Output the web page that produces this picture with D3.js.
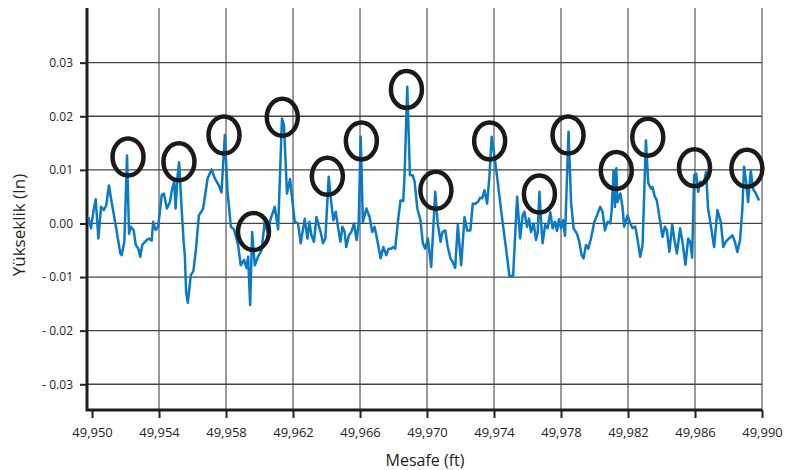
<!DOCTYPE html>
<html lang="tr">
<head>
    <meta charset="UTF-8">
    <title>Yükseklik - Mesafe</title>
    <script src="https://cdn.jsdelivr.net/npm/d3@7"></script>
    <style>
        body {
            margin: 0;
            background-color: white;
        }
        svg {
            display: block;
            font-family: "Open Sans", sans-serif;
        }
    </style>
</head>
<body>
<script>

    // DATA
    const distance = [
        49949.78, 49949.94, 49950.08, 49950.22, 49950.38, 49950.54, 49950.70, 49950.85, 49951.01, 49951.17,
        49951.41, 49951.69, 49951.77, 49951.93, 49952.09, 49952.21, 49952.32, 49952.49, 49952.61, 49952.76,
        49952.88, 49953.00, 49953.26, 49953.40, 49953.56, 49953.65, 49953.80, 49953.95, 49954.16, 49954.29,
        49954.47, 49954.65, 49954.79, 49954.91, 49954.99, 49955.11, 49955.20, 49955.35, 49955.47, 49955.54,
        49955.62, 49955.72, 49955.90, 49956.05, 49956.20, 49956.38, 49956.63, 49956.90, 49957.14, 49957.33,
        49957.57, 49957.73, 49957.93, 49958.09, 49958.29, 49958.48, 49958.72, 49958.88, 49959.08, 49959.22,
        49959.32, 49959.44, 49959.56, 49959.72, 49959.91, 49960.12, 49960.31, 49960.47, 49960.67, 49960.91,
        49961.11, 49961.34, 49961.46, 49961.64, 49961.82, 49962.10, 49962.30, 49962.46, 49962.70, 49962.86,
        49962.98, 49963.10, 49963.25, 49963.40, 49963.53, 49963.65, 49963.79, 49963.93, 49964.13, 49964.29,
        49964.41, 49964.55, 49964.68, 49964.83, 49964.95, 49965.08, 49965.18, 49965.34, 49965.48, 49965.64,
        49965.80, 49965.92, 49966.04, 49966.17, 49966.38, 49966.57, 49966.73, 49966.87, 49967.03, 49967.23,
        49967.39, 49967.57, 49967.71, 49967.87, 49967.96, 49968.10, 49968.26, 49968.42, 49968.58, 49968.66,
        49968.82, 49968.98, 49969.14, 49969.26, 49969.42, 49969.61, 49969.75, 49969.89, 49970.05, 49970.25,
        49970.49, 49970.64, 49970.81, 49970.92, 49971.09, 49971.24, 49971.40, 49971.54, 49971.68, 49971.84,
        49972.04, 49972.24, 49972.40, 49972.59, 49972.73, 49972.89, 49973.03, 49973.17, 49973.29, 49973.43,
        49973.59, 49973.73, 49973.86, 49974.02, 49974.22, 49974.46, 49974.72, 49974.92, 49975.14, 49975.38,
        49975.56, 49975.71, 49975.81, 49975.97, 49976.09, 49976.21, 49976.37, 49976.51, 49976.61, 49976.71,
        49976.81, 49976.90, 49977.05, 49977.20, 49977.36, 49977.50, 49977.64, 49977.76, 49977.88, 49978.00,
        49978.12, 49978.24, 49978.45, 49978.60, 49978.75, 49978.95, 49979.09, 49979.23, 49979.35, 49979.49,
        49979.63, 49979.79, 49979.99, 49980.15, 49980.34, 49980.48, 49980.62, 49980.78, 49980.94, 49981.02,
        49981.14, 49981.22, 49981.30, 49981.37, 49981.54, 49981.67, 49981.77, 49981.97, 49982.13, 49982.27,
        49982.43, 49982.53, 49982.73, 49982.87, 49983.07, 49983.21, 49983.37, 49983.46, 49983.60, 49983.72,
        49983.92, 49984.06, 49984.20, 49984.32, 49984.47, 49984.64, 49984.76, 49984.92, 49985.11, 49985.25,
        49985.43, 49985.59, 49985.71, 49985.83, 49985.95, 49986.07, 49986.19, 49986.30, 49986.42, 49986.54,
        49986.66, 49986.78, 49986.94, 49987.14, 49987.34, 49987.54, 49987.69, 49987.84, 49988.03, 49988.23,
        49988.37, 49988.53, 49988.69, 49988.83, 49988.93, 49989.05, 49989.17, 49989.33, 49989.46, 49989.63,
        49989.82
    ]
    const elevation = [
        0.0012, -0.0009, 0.0022, 0.0045, -0.0028, 0.0031, 0.0025, 0.0034, 0.0071, 0.0040,
        -0.0003, -0.0056, -0.0059, -0.0034, 0.0127, -0.0019, -0.0006, -0.0013, -0.0040, -0.0047,
        -0.0062, -0.0040, -0.0031, -0.0028, -0.0032, 0.0003, -0.0012, -0.0006, 0.0053, 0.0056,
        0.0028, 0.0040, 0.0065, 0.0078, 0.0028, 0.0090, 0.0114, 0.0028, -0.0034, -0.0059,
        -0.0128, -0.0148, -0.0096, -0.0089, -0.0050, 0.0015, 0.0027, 0.0084, 0.0101, 0.0084,
        0.0071, 0.0058, 0.0165, 0.0059, -0.0006, -0.0011, -0.0040, -0.0078, -0.0068, -0.0083,
        -0.0062, -0.0152, -0.0016, -0.0078, -0.0062, -0.0050, 0.0003, -0.0016, 0.0009, 0.0031,
        -0.0011, 0.0196, 0.0183, 0.0056, 0.0083, 0.0003, 0.0000, -0.0037, 0.0009, -0.0028,
        0.0003, -0.0022, -0.0034, 0.0012, -0.0003, -0.0016, -0.0037, -0.0028, 0.0087, 0.0037,
        0.0006, 0.0022, -0.0006, -0.0034, -0.0006, -0.0016, -0.0044, -0.0022, -0.0016, 0.0000,
        -0.0031, 0.0000, 0.0162, 0.0003, 0.0028, 0.0012, -0.0016, -0.0006, -0.0031, -0.0065,
        -0.0044, -0.0059, -0.0047, -0.0047, -0.0044, -0.0047, 0.0003, 0.0043, 0.0042, 0.0090,
        0.0255, 0.0090, 0.0090, 0.0078, 0.0028, 0.0006, -0.0037, -0.0047, -0.0028, -0.0081,
        0.0059, 0.0000, -0.0034, -0.0016, -0.0013, -0.0044, -0.0065, -0.0072, -0.0083, -0.0003,
        -0.0078, 0.0012, -0.0013, -0.0013, 0.0037, 0.0037, 0.0040, 0.0048, 0.0047, 0.0062,
        0.0037, 0.0090, 0.0162, 0.0127, 0.0078, 0.0015, -0.0047, -0.0098, -0.0098, 0.0050,
        -0.0028, 0.0015, 0.0022, -0.0006, 0.0009, -0.0016, 0.0000, -0.0031, -0.0016, 0.0059,
        0.0003, -0.0037, -0.0003, -0.0009, 0.0021, -0.0009, 0.0003, -0.0014, 0.0008, -0.0009,
        0.0006, -0.0023, 0.0171, 0.0040, -0.0009, -0.0019, -0.0034, -0.0059, -0.0065, -0.0040,
        -0.0047, -0.0028, 0.0003, 0.0015, 0.0031, 0.0022, -0.0013, 0.0003, 0.0000, 0.0022,
        0.0099, 0.0031, 0.0103, 0.0040, 0.0056, 0.0031, -0.0006, 0.0015, 0.0000, -0.0009,
        -0.0006, -0.0022, -0.0062, -0.0040, 0.0155, 0.0075, 0.0065, 0.0068, 0.0050, 0.0043,
        0.0003, -0.0025, -0.0006, -0.0013, -0.0053, -0.0002, -0.0028, -0.0056, -0.0009, -0.0034,
        -0.0077, -0.0028, -0.0034, -0.0064, 0.0090, 0.0093, 0.0059, 0.0078, 0.0071, 0.0078,
        0.0096, 0.0028, -0.0003, -0.0044, 0.0025, 0.0003, -0.0044, -0.0034, -0.0028, -0.0022,
        -0.0033, -0.0053, -0.0031, 0.0028, 0.0106, 0.0078, 0.0040, 0.0099, 0.0065, 0.0056,
        0.0043
    ]

    // CIRCLED PEAKS
    const peakX = [49952.15, 49955.19, 49957.88, 49959.64, 49961.36, 49964.05, 49966.08, 49968.77,
                   49970.53, 49973.74, 49976.71, 49978.42, 49981.30, 49983.18, 49985.97, 49989.10]
    const peakY = [0.0124, 0.0115, 0.0165, -0.0015, 0.0198, 0.0088, 0.0154, 0.0250,
                   0.0062, 0.0154, 0.0055, 0.0165, 0.0099, 0.0161, 0.0104, 0.0103]

    // TICKS
    const xTicks = [49950, 49954, 49958, 49962, 49966, 49970, 49974, 49978, 49982, 49986, 49990]
    const yTicks = [-0.03, -0.02, -0.01, 0.00, 0.01, 0.02, 0.03]

    let points = distance.map((d, i) => ({x: d, y: elevation[i]}))
    let peaks = peakX.map((d, i) => ({x: d, y: peakY[i]}))

    let svg = d3.select("body").append("svg")
                .attr("width", 795)
                .attr("height", 470)

    // SCALES
    let x_scale = d3.scaleLinear()
                    .domain([49949.70, 49990])
                    .range([87, 762])
    let y_scale = d3.scaleLinear()
                    .domain([-0.0348, 0.0402])
                    .range([410, 8])

    // GRID
    svg.append("g")
        .selectAll("line")
        .data(xTicks.slice(1))
        .join("line")
        .attr("x1", d => x_scale(d)).attr("x2", d => x_scale(d))
        .attr("y1", y_scale.range()[1]).attr("y2", y_scale.range()[0])
        .style("stroke", "#646464")
        .style("stroke-width", "1.3px")

    svg.append("g")
        .selectAll("line")
        .data(yTicks)
        .join("line")
        .attr("x1", x_scale.range()[0]).attr("x2", x_scale.range()[1])
        .attr("y1", d => y_scale(d)).attr("y2", d => y_scale(d))
        .style("stroke", "#444")
        .style("stroke-width", "1.3px")

    // AXES
    const yFormat = d => d === 0 ? "0.00" : (d < 0 ? "- " + Math.abs(d).toFixed(2) : d.toFixed(2))
    const x_axis = d3.axisBottom(x_scale).tickValues(xTicks).tickFormat(d3.format(",")).tickSize(8).tickPadding(10)
    const y_axis = d3.axisLeft(y_scale).tickValues(yTicks).tickFormat(yFormat).tickSize(7).tickPadding(7)

    let gx = svg.append("g").attr("transform", "translate(0,410)").call(x_axis)
    let gy = svg.append("g").attr("transform", "translate(87,0)").call(y_axis)

    gx.select(".domain").remove()
    gy.select(".domain").remove()
    gx.selectAll(".tick line").style("stroke", "#222").style("stroke-width", "2px")
    gy.selectAll(".tick line").style("stroke", "#222").style("stroke-width", "2px")
    gx.selectAll("text").style("font-size", "13px").style("fill", "#231f20").style("font-family", "Open Sans")
    gy.selectAll("text").style("font-size", "12px").style("fill", "#231f20").style("font-family", "Open Sans")

    // AXIS LINES
    svg.append("path")
        .attr("d", `M${x_scale.range()[0]},${y_scale.range()[1]}V${y_scale.range()[0]}H${x_scale.range()[1]}`)
        .style("fill", "none")
        .style("stroke", "#1e1e1e")
        .style("stroke-width", "3px")

    // LINE
    let line = d3.line()
                 .x(d => x_scale(d.x))
                 .y(d => y_scale(d.y))

    svg.append("path")
        .datum(points)
        .attr("d", line)
        .style("fill", "none")
        .style("stroke", "#0a7ac6")
        .style("stroke-width", "2.5px")
        .style("stroke-linejoin", "round")

    // CIRCLES
    svg.append("g")
        .selectAll("ellipse")
        .data(peaks)
        .join("ellipse")
        .attr("cx", d => x_scale(d.x))
        .attr("cy", d => y_scale(d.y))
        .attr("rx", 15.5)
        .attr("ry", 18.5)
        .style("fill", "none")
        .style("stroke", "#1a1a1a")
        .style("stroke-width", "4.5px")

    // TITLES
    svg.append("text")
        .attr("x", 425).attr("y", 466)
        .attr("text-anchor", "middle")
        .text("Mesafe (ft)")
        .style("font-size", "16px")
        .style("fill", "#231f20")

    svg.append("text")
        .attr("transform", "translate(25,225) rotate(-90)")
        .attr("text-anchor", "middle")
        .text("Yükseklik (In)")
        .style("font-size", "17px")
        .style("fill", "#231f20")

</script>
</body>
</html>
